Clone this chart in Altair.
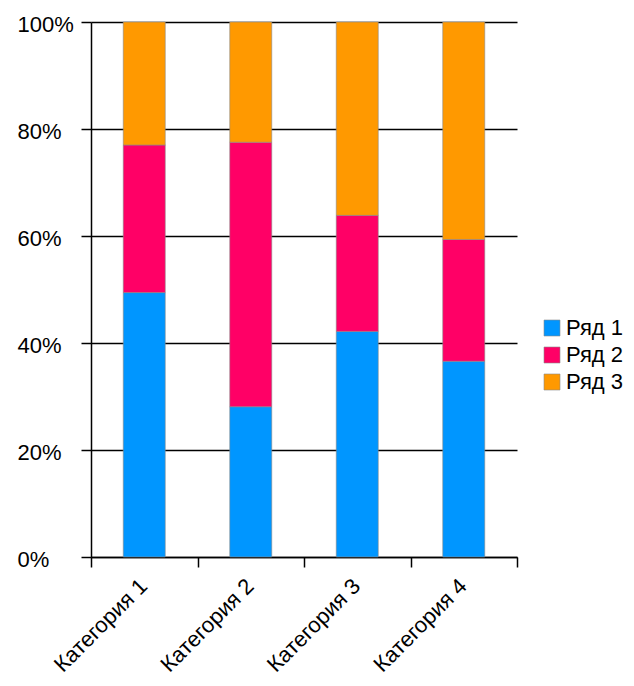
import altair as alt
import pandas as pd

categories = ["Категория 1", "Категория 2", "Категория 3", "Категория 4"]
series = ["Ряд 1", "Ряд 2", "Ряд 3"]
values = {
    "Ряд 1": [4.3, 2.5, 3.5, 4.5],
    "Ряд 2": [2.4, 4.4, 1.8, 2.8],
    "Ряд 3": [2.0, 2.0, 3.0, 5.0],
}
colors = ["#0096ff", "#ff0066", "#ff9900"]

rows = []
for si, s in enumerate(series):
    for ci, c in enumerate(categories):
        rows.append({"cat": c, "series": s, "value": values[s][ci], "ord": si})
df = pd.DataFrame(rows)

FONT = "Liberation Sans"
FS = 22

chart = alt.Chart(df).mark_bar(width=42, stroke="#8a8a8a", strokeWidth=0.6).encode(
    x=alt.X("cat:N", sort=categories, title=None,
            scale=alt.Scale(paddingInner=0, paddingOuter=0),
            axis=alt.Axis(labelAngle=315, labelFontSize=FS, labelFont=FONT, labelColor="#000",
                          tickBand="extent", tickSize=10, tickColor="#000", tickWidth=1.5,
                          domainColor="#000", domainWidth=1.5, labelPadding=8, labelOffset=-8,
                          grid=False)),
    y=alt.Y("value:Q", stack="normalize", title=None,
            scale=alt.Scale(domain=[0, 1], nice=False),
            axis=alt.Axis(format="%", values=[0, 0.2, 0.4, 0.6, 0.8, 1.0], labelFontSize=FS,
                          labelFont=FONT, labelColor="#000", tickSize=10, tickColor="#000",
                          tickWidth=1.5, grid=True, gridColor="#000", gridWidth=1.5,
                          gridOpacity=1, domainColor="#000", domainWidth=1.5,
                          labelAlign="left", labelPadding=64, labelOffset=2)),
    color=alt.Color("series:N", sort=series, title=None,
                    scale=alt.Scale(domain=series, range=colors),
                    legend=alt.Legend(orient="none", legendX=450, legendY=295,
                                      labelFontSize=FS, labelFont=FONT, labelColor="#000",
                                      symbolType="square", symbolSize=256, symbolStrokeWidth=0.6,
                                      symbolStrokeColor="#8a8a8a", rowPadding=5, labelOffset=3,
                                      labelLimit=300)),
    order=alt.Order("ord:Q", sort="ascending"),
).properties(
    width=426, height=535,
    autosize=alt.AutoSizeParams(type="none"),
    padding={"left": 83, "top": 14, "right": 109, "bottom": 120},
).configure_view(stroke=None)

chart.save("out.html", embed_options={"renderer": "svg", "actions": False})
